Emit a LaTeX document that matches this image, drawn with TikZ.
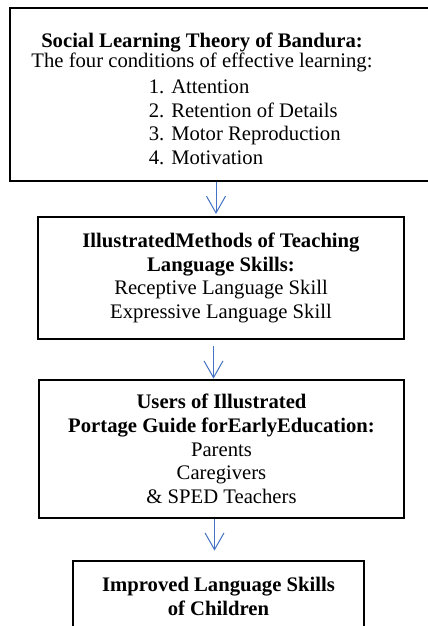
\documentclass[tikz,border=0pt]{standalone}
\usepackage{fontspec}
\setmainfont{Liberation Serif}
\usetikzlibrary{arrows.meta}
\definecolor{arrowblue}{RGB}{68,114,196}

\begin{document}
\begin{tikzpicture}[x=0.6pt,y=-0.6pt,
		>={Straight Barb[length=10pt,width=11.4pt]},
		framebox/.style={draw,line width=1.7pt,inner sep=0pt},
		flow/.style={->,draw=arrowblue,line width=0.6pt},
		boxtext/.style={align=center,font=\fontsize{12.4pt}{14.2pt}\selectfont}]
		\useasboundingbox (0,0) rectangle (428,626);
		
		% boxes
		\node[framebox,minimum width=267.6pt,minimum height=103.8pt] (theory) at (233,94.5) {};
		\node[framebox,boxtext,minimum width=219.6pt,minimum height=73.2pt] (methods) at (221,278)
		{\textbf{IllustratedMethods of Teaching}\\\textbf{Language Skills:}\\Receptive Language Skill\\Expressive Language Skill};
		\node[framebox,boxtext,minimum width=219pt,minimum height=82.8pt] (users) at (221.5,449)
		{\textbf{Users of Illustrated}\\\textbf{Portage Guide forEarlyEducation:}\\Parents\\Caregivers\\\& SPED Teachers};
		\node[framebox,minimum width=174.6pt,minimum height=48pt] (skills) at (218.5,601) {};
		
		% texts of the first and last box
		\node[boxtext,anchor=north] (head) at (202,27)
		{\textbf{Social Learning Theory of Bandura:}\\[-2.2pt]The four conditions of effective learning:};
		\node[boxtext,align=left,anchor=north west] (list) at (143,74)
		{1. Attention\\2. Retention of Details\\3. Motor Reproduction\\4. Motivation};
		\node[boxtext,anchor=north] (result) at ([yshift=-7pt]skills.north)
		{\textbf{Improved Language Skills}\\\textbf{of Children}};
		
		% arrows
		\coordinate (a1) at (216,0);
		\coordinate (a2) at (213.5,0);
		\coordinate (a3) at (214.5,0);
		\draw[flow,shorten >=1pt] (theory.south -| a1) -- (methods.north -| a1);
		\draw[flow,shorten <=3.6pt] (methods.south -| a2) -- (users.north -| a2);
		\draw[flow,shorten >=5.4pt] (users.south -| a3) -- (skills.north -| a3);
\end{tikzpicture}
\end{document}
